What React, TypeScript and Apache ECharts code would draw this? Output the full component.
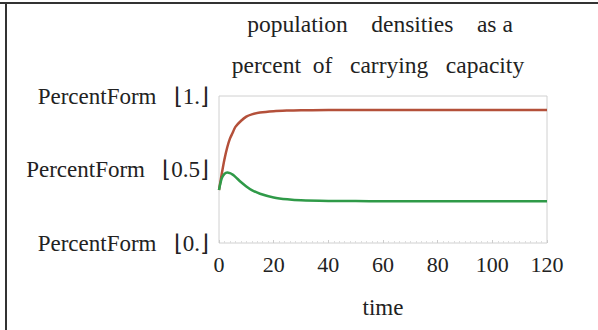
import React, { useEffect, useRef } from "react";
import * as echarts from "echarts";

const titleLines = ["population    densities    as a", "percent  of   carrying   capacity"];
const xLabel = "time";
const yTickValues = [0, 0.5, 1];
const yTickLabels = ["PercentForm   ⌊0.⌋", "PercentForm   ⌊0.5⌋", "PercentForm   ⌊1.⌋"];
const xTicks = [0, 20, 40, 60, 80, 100, 120];

const times = [0, 1, 2, 3, 4, 5, 6, 8, 10, 12, 15, 20, 25, 30, 40, 50, 60, 80, 100, 120];
const prey = [0.36, 0.47, 0.57, 0.65, 0.71, 0.75, 0.79, 0.83, 0.86, 0.875, 0.888, 0.897, 0.901, 0.903, 0.905, 0.905, 0.905, 0.905, 0.905, 0.905];
const predator = [0.36, 0.44, 0.47, 0.48, 0.475, 0.465, 0.45, 0.415, 0.385, 0.36, 0.335, 0.31, 0.297, 0.29, 0.286, 0.285, 0.284, 0.284, 0.284, 0.284];

export default function App() {
  const ref = useRef<HTMLDivElement>(null);
  useEffect(() => {
    if (!ref.current) return;
    const chart = echarts.init(ref.current, null, { renderer: "svg" });
    const font = "'Liberation Serif', 'Times New Roman', serif";
    chart.setOption({
      animation: false,
      backgroundColor: "#ffffff",
      grid: { left: 219, top: 96, right: 51, bottom: 87, show: true, borderColor: "#d0d0d0", borderWidth: 1, containLabel: false },
      xAxis: {
        type: "value",
        min: 0,
        max: 120,
        interval: 20,
        name: xLabel,
        nameLocation: "middle",
        nameGap: 53,
        nameTextStyle: { fontFamily: font, fontSize: 23, color: "#222" },
        axisLine: { show: false },
        axisTick: { show: true, inside: true, length: 3, lineStyle: { color: "#ccc" } },
        minorTick: { show: true, splitNumber: 10, length: 2, lineStyle: { color: "#ddd" } },
        splitLine: { show: false },
        axisLabel: {
          fontFamily: font,
          fontSize: 22,
          color: "#222",
          margin: 10,
          formatter: (v: number) => (xTicks.includes(v) ? String(v) : ""),
        },
      },
      yAxis: {
        type: "value",
        min: 0,
        max: 1,
        interval: 0.5,
        axisLine: { show: false },
        axisTick: { show: false },
        splitLine: { show: false },
        axisLabel: {
          fontFamily: font,
          fontSize: 23,
          color: "#222",
          margin: 10,
          formatter: (v: number) => {
            const i = yTickValues.indexOf(v);
            return i >= 0 ? yTickLabels[i] : "";
          },
        },
      },
      graphic: [
        { type: "rect", shape: { x: 0, y: 2, width: 598, height: 2 }, style: { fill: "#333" } },
        { type: "rect", shape: { x: 5, y: 2, width: 2, height: 328 }, style: { fill: "#333" } },
        {
          type: "text",
          x: 380,
          y: 24,
          style: { text: titleLines[0], font: `23.5px ${font}`, fill: "#222", textAlign: "center", textVerticalAlign: "middle" },
        },
        {
          type: "text",
          x: 378,
          y: 65,
          style: { text: titleLines[1], font: `23.5px ${font}`, fill: "#222", textAlign: "center", textVerticalAlign: "middle" },
        },
      ],
      series: [
        {
          type: "line",
          data: times.map((t, i) => [t, prey[i]]),
          smooth: 0.3,
          showSymbol: false,
          lineStyle: { color: "#b4503a", width: 2.5 },
        },
        {
          type: "line",
          data: times.map((t, i) => [t, predator[i]]),
          smooth: 0.3,
          showSymbol: false,
          lineStyle: { color: "#2f9a48", width: 2.5 },
        },
      ],
    });
    return () => chart.dispose();
  }, []);
  return <div ref={ref} style={{ width: 598, height: 330, position: "absolute", left: 0, top: 0 }} />;
}
